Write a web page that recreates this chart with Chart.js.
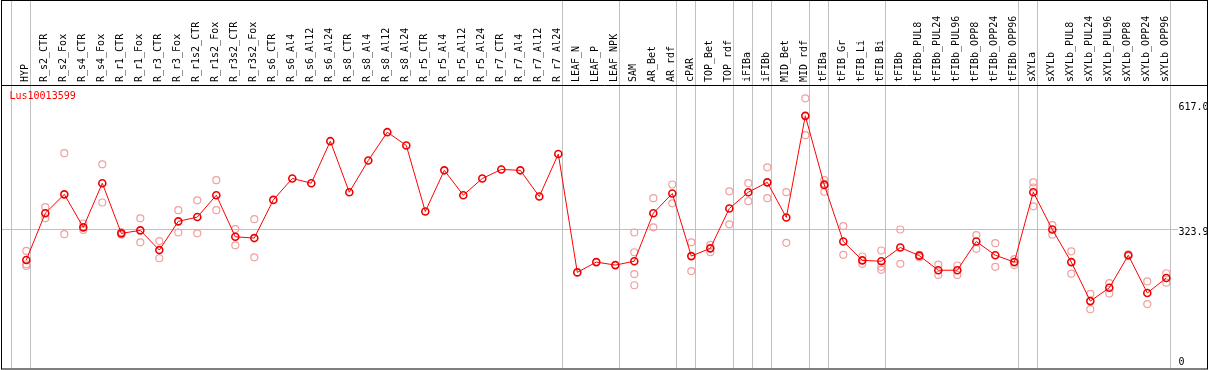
<!DOCTYPE html>
<html>
<head>
<meta charset="utf-8">
<script src="https://cdn.jsdelivr.net/npm/chart.js@4"></script>
<style>
  body { margin: 0; background: #fff; }
  canvas { display: block; }
</style>
</head>
<body>
<canvas id="expr" width="1209" height="370"></canvas>
<script>
var geneName = 'Lus10013599';

var categories = ['HYP', 'R_s2_CTR', 'R_s2_Fox', 'R_s4_CTR', 'R_s4_Fox', 'R_r1_CTR', 'R_r1_Fox',
    'R_r3_CTR', 'R_r3_Fox', 'R_r1s2_CTR', 'R_r1s2_Fox', 'R_r3s2_CTR', 'R_r3s2_Fox',
    'R_s6_CTR', 'R_s6_Al4', 'R_s6_Al12', 'R_s6_Al24', 'R_s8_CTR', 'R_s8_Al4', 'R_s8_Al12', 'R_s8_Al24',
    'R_r5_CTR', 'R_r5_Al4', 'R_r5_Al12', 'R_r5_Al24', 'R_r7_CTR', 'R_r7_Al4', 'R_r7_Al12', 'R_r7_Al24',
    'LEAF_N', 'LEAF_P', 'LEAF_NPK', 'SAM', 'AR_Bet', 'AR_rdf', 'cPAR', 'TOP_Bet', 'TOP_rdf',
    'iFIBa', 'iFIBb', 'MID_Bet', 'MID_rdf', 'tFIBa', 'tFIB_Gr', 'tFIB_Li', 'tFIB_Bi',
    'tFIBb', 'tFIBb_PUL8', 'tFIBb_PUL24', 'tFIBb_PUL96', 'tFIBb_OPP8', 'tFIBb_OPP24', 'tFIBb_OPP96',
    'sXYLa', 'sXYLb', 'sXYLb_PUL8', 'sXYLb_PUL24', 'sXYLb_PUL96', 'sXYLb_OPP8', 'sXYLb_OPP24', 'sXYLb_OPP96'];

// mean expression per sample
var means = [252, 361, 405, 328, 431, 314, 321, 275, 342, 352, 403, 306, 303,
    392, 442, 431, 529, 410, 484, 550, 519, 365, 461, 403, 442, 463, 461, 400, 499,
    223, 247, 240, 249, 361, 407, 261, 279, 372, 410, 433, 351, 588, 427, 295, 251, 249,
    281, 262, 228, 228, 295, 263, 247, 410, 323, 247, 156, 187, 263, 175, 210];

// individual replicates per sample
var replicates = [[273, 242, 238], [375, 349], [501, 312], [337, 322], [475, 386], [317, 311], [349, 293],
    [296, 256], [368, 316], [391, 314], [438, 368], [324, 286], [347, 258],
    [], [], [], [], [], [], [], [], [], [], [], [], [], [], [], [],
    [], [], [], [316, 270, 219, 193], [396, 328], [428, 384], [293, 226], [287, 270], [412, 335],
    [431, 389], [468, 396], [410, 292], [629, 543], [438, 430, 411], [331, 264], [260, 243], [274, 236, 229],
    [323, 243], [264, 258], [241, 217], [239, 217], [310, 278], [291, 236], [254, 240],
    [433, 421, 377], [333, 311], [272, 220], [173, 137], [198, 174], [265, 261], [202, 149], [221, 199]];

var yTicks = [0, 323.9, 617.0];

// last sample index of each group (gray separators)
var groupEnds = [-1, 0, 28, 31, 34, 35, 37, 38, 39, 41, 42, 45, 52, 53, 60];

var meanPts = means.map(function (v, i) { return { x: i, y: v }; });
var repPts = [];
replicates.forEach(function (r, i) {
    r.forEach(function (v) { repPts.push({ x: i, y: v }); });
});

Chart.defaults.font.family = "'DejaVu Sans Mono', monospace";
Chart.defaults.font.size = 10;
Chart.defaults.color = '#000';

var decor = {
    id: 'decor',
    beforeDatasetsDraw: function (chart) {
        var ctx = chart.ctx, xs = chart.scales.x, area = chart.chartArea;
        ctx.save();
        ctx.strokeStyle = '#c0c0c0';
        ctx.lineWidth = 1;
        groupEnds.forEach(function (g) {
            var px = Math.round(xs.getPixelForValue(g + 0.2)) + 0.5;
            ctx.beginPath();
            ctx.moveTo(px, 0);
            ctx.lineTo(px, area.bottom);
            ctx.stroke();
        });
        ctx.restore();
    },
    afterDraw: function (chart) {
        var ctx = chart.ctx, ys = chart.scales.y, area = chart.chartArea;
        ctx.save();
        ctx.font = "10px 'DejaVu Sans Mono'";
        ctx.textBaseline = 'middle';
        ctx.textAlign = 'left';
        yTicks.forEach(function (v) {
            var py = Math.min(ys.getPixelForValue(v) + 3.5, area.bottom - 6);
            var txt = v === 0 ? '0' : v.toFixed(1);
            ctx.fillStyle = '#fff';
            ctx.fillRect(1178, py - 5, ctx.measureText(txt).width + 1, 10);
            ctx.fillStyle = '#000';
            ctx.fillText(txt, 1178.5, py);
        });
        ctx.fillStyle = '#ff0000';
        ctx.fillText(geneName, 9.5, 96.5);
        ctx.strokeStyle = '#000';
        ctx.lineWidth = 1;
        ctx.strokeRect(1.5, 0.5, 1206, 368.5);
        ctx.beginPath();
        ctx.moveTo(1, 85.5);
        ctx.lineTo(1208, 85.5);
        ctx.stroke();
        ctx.restore();
    }
};

var chart = new Chart(document.getElementById('expr').getContext('2d'), {
    type: 'line',
    data: {
        datasets: [{
            label: 'mean',
            data: meanPts,
            borderColor: '#ff0000',
            borderWidth: 1,
            pointRadius: 3.5,
            pointBorderWidth: 1.6,
            pointBorderColor: '#ee0000',
            pointBackgroundColor: 'rgba(0,0,0,0)',
            fill: false,
            tension: 0
        }, {
            type: 'scatter',
            label: 'replicates',
            data: repPts,
            showLine: false,
            pointRadius: 3.5,
            pointBorderWidth: 1.2,
            pointBorderColor: '#f0a0a0',
            pointBackgroundColor: 'rgba(0,0,0,0)'
        }]
    },
    options: {
        responsive: false,
        animation: false,
        devicePixelRatio: 1,
        layout: { autoPadding: false, padding: { left: 1, right: 2, top: 0, bottom: 2 } },
        plugins: { legend: { display: false }, tooltip: { enabled: false } },
        scales: {
            x: {
                type: 'linear',
                position: 'top',
                min: -1.332,
                max: 62.142,
                grid: { display: false, drawTicks: false },
                border: { display: false },
                ticks: {
                    stepSize: 1,
                    includeBounds: false,
                    autoSkip: false,
                    minRotation: 90,
                    maxRotation: 90,
                    padding: 3,
                    labelOffset: 11,
                    callback: function (v) { return categories[v] || ''; }
                },
                afterFit: function (s) { s.height = 85; s.paddingLeft = 0; s.paddingRight = 0; }
            },
            y: {
                position: 'right',
                min: 0,
                max: 660,
                border: { display: false },
                ticks: { display: false },
                grid: {
                    drawTicks: false,
                    color: function (c) { return c.tick && c.tick.value === 323.9 ? '#c0c0c0' : 'rgba(0,0,0,0)'; }
                },
                afterBuildTicks: function (s) { s.ticks = yTicks.map(function (v) { return { value: v }; }); },
                afterFit: function (s) { s.width = 0; }
            }
        }
    },
    plugins: [decor]
});
</script>
</body>
</html>
